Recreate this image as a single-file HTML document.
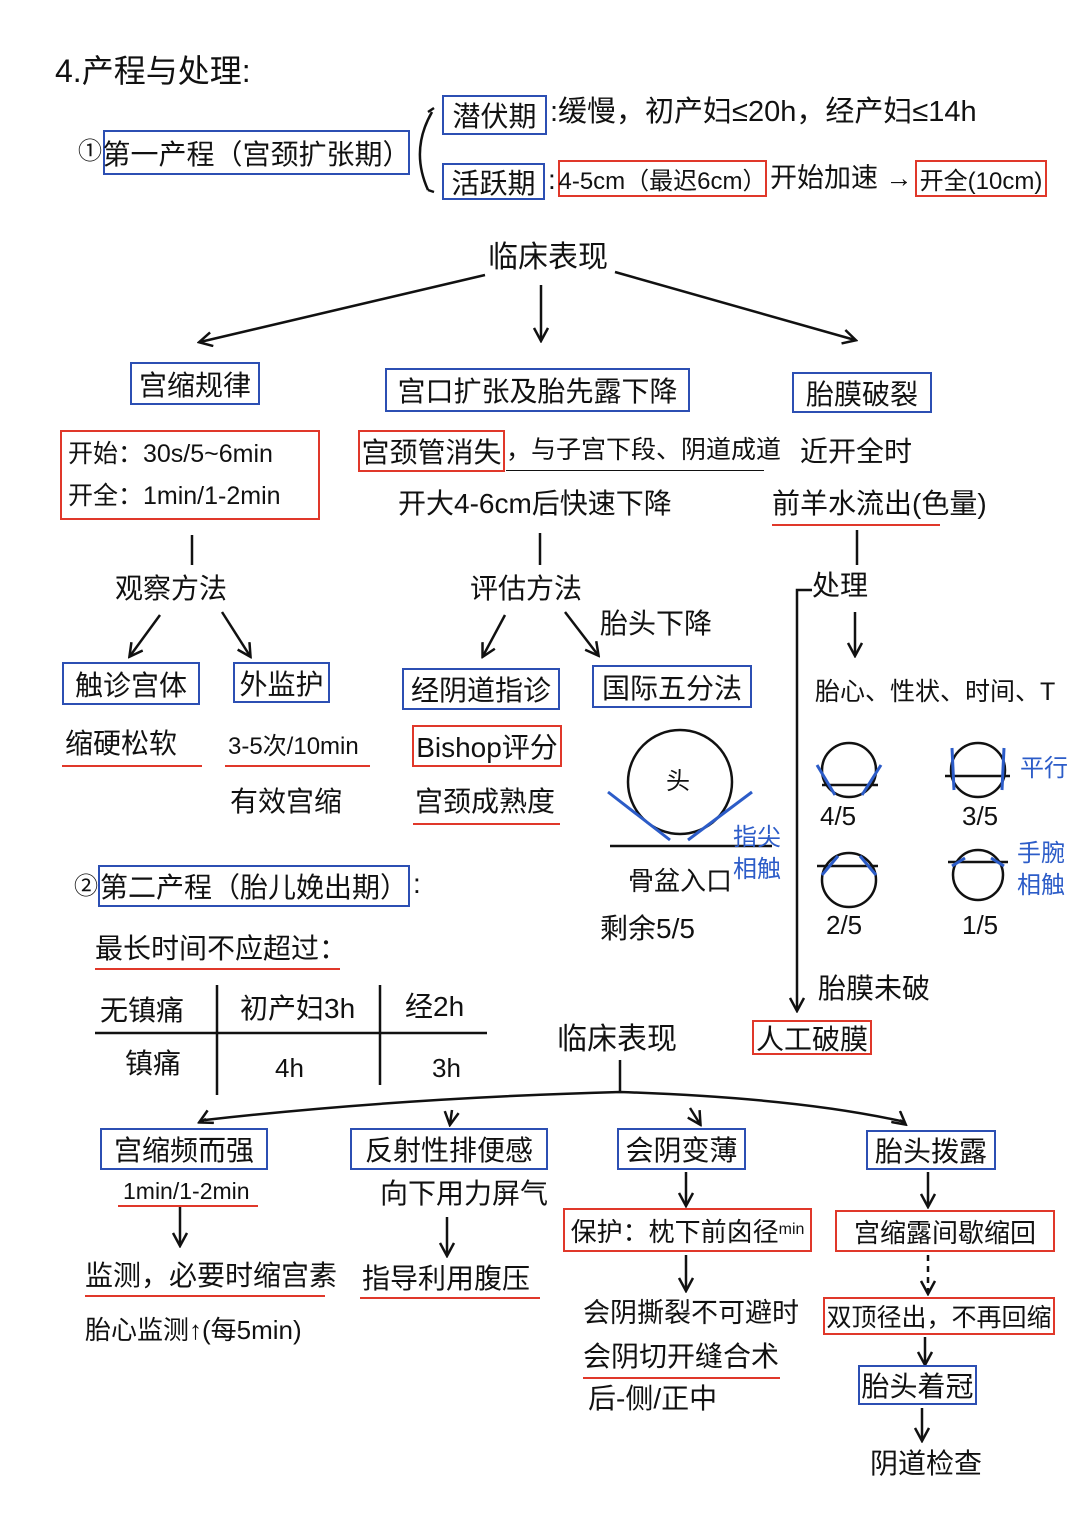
<!DOCTYPE html>
<html><head><meta charset="utf-8"><style>
body{margin:0;width:1080px;height:1529px;background:#fff;position:relative;overflow:hidden;font-family:"Liberation Sans","Noto Sans CJK SC",sans-serif;color:#111}
.t{position:absolute;font-size:28px;line-height:1;white-space:nowrap}
.b{position:absolute;border:2.5px solid #2c4fb3;box-sizing:border-box;font-size:28px;display:flex;align-items:center;justify-content:center;white-space:nowrap}
.r{position:absolute;border:2.5px solid #e0382a;box-sizing:border-box;font-size:28px;display:flex;align-items:center;justify-content:center;white-space:nowrap}
.u{position:absolute;height:0;border-top:2.5px solid #e0382a}
.bl{color:#2c5cc8}
svg{position:absolute;left:0;top:0}
</style></head><body>
<svg width="1080" height="1529" fill="none" stroke="#111" stroke-width="2.5">
<defs><marker id="a" markerUnits="userSpaceOnUse" markerWidth="16" markerHeight="16" refX="13" refY="8" orient="auto"><path d="M1,1 L14,8 L1,15" stroke="#111" stroke-width="2.5" fill="none"/></marker></defs>
<path d="M432,112 Q410,150 428,190"/>
<path d="M428,112 l6,-4 M428,190 l6,2"/>
<line x1="485" y1="275" x2="200" y2="342" marker-end="url(#a)"/>
<line x1="541" y1="285" x2="541" y2="340" marker-end="url(#a)"/>
<line x1="615" y1="272" x2="855" y2="340" marker-end="url(#a)"/>
<line x1="192" y1="535" x2="192" y2="565"/>
<line x1="540" y1="533" x2="540" y2="565"/>
<line x1="857" y1="530" x2="857" y2="565"/>
<line x1="160" y1="615" x2="130" y2="656" marker-end="url(#a)"/>
<line x1="222" y1="612" x2="250" y2="656" marker-end="url(#a)"/>
<line x1="505" y1="615" x2="483" y2="656" marker-end="url(#a)"/>
<line x1="565" y1="612" x2="598" y2="655" marker-end="url(#a)"/>
<path d="M812,590 L797,590 L797,1010" marker-end="url(#a)"/>
<line x1="855" y1="612" x2="855" y2="655" marker-end="url(#a)"/>
<circle cx="680" cy="782" r="52"/>
<line x1="610" y1="846" x2="772" y2="846"/>
<circle cx="849" cy="770" r="27"/><line x1="822" y1="785" x2="878" y2="785"/>
<circle cx="978" cy="770" r="27"/><line x1="945" y1="776" x2="1010" y2="776"/>
<circle cx="849" cy="880" r="27"/><line x1="817" y1="866" x2="878" y2="866"/>
<circle cx="978" cy="875" r="25"/><line x1="948" y1="862" x2="1008" y2="862"/>
<g stroke="#2c5cc8" stroke-width="3">
<line x1="608" y1="792" x2="670" y2="840"/><line x1="752" y1="792" x2="688" y2="840"/>
<line x1="817" y1="765" x2="835" y2="795"/><line x1="881" y1="765" x2="862" y2="795"/>
<line x1="952" y1="748" x2="954" y2="790"/><line x1="1004" y1="748" x2="1002" y2="790"/>
<line x1="838" y1="856" x2="822" y2="875"/><line x1="860" y1="856" x2="876" y2="875"/>
<line x1="965" y1="858" x2="952" y2="866"/><line x1="991" y1="858" x2="1004" y2="866"/>
</g>
<line x1="95" y1="1033" x2="487" y2="1033"/>
<line x1="217" y1="985" x2="217" y2="1095"/>
<line x1="380" y1="985" x2="380" y2="1085"/>
<line x1="620" y1="1060" x2="620" y2="1092"/>
<path d="M205,1120 Q400,1098 620,1092 Q800,1098 905,1122"/>
<line x1="206" y1="1119" x2="200" y2="1122" marker-end="url(#a)"/>
<line x1="452" y1="1110" x2="450" y2="1124" marker-end="url(#a)"/>
<line x1="690" y1="1108" x2="700" y2="1124" marker-end="url(#a)"/>
<line x1="900" y1="1120" x2="905" y2="1124" marker-end="url(#a)"/>
<line x1="180" y1="1207" x2="180" y2="1245" marker-end="url(#a)"/>
<line x1="447" y1="1217" x2="447" y2="1255" marker-end="url(#a)"/>
<line x1="686" y1="1172" x2="686" y2="1205" marker-end="url(#a)"/>
<line x1="686" y1="1255" x2="686" y2="1290" marker-end="url(#a)"/>
<line x1="928" y1="1172" x2="928" y2="1206" marker-end="url(#a)"/>
<line x1="928" y1="1255" x2="928" y2="1293" stroke-dasharray="6,5" marker-end="url(#a)"/>
<line x1="925" y1="1337" x2="925" y2="1364" marker-end="url(#a)"/>
<line x1="922" y1="1408" x2="922" y2="1440" marker-end="url(#a)"/>
</svg>

<div class="t" style="left:55px;top:55px;font-size:32px">4.产程与处理:</div>
<div class="t" style="left:78px;top:140px;font-size:24px">①</div>
<div class="b" style="left:103px;top:130px;width:307px;height:45px">第一产程（宫颈扩张期）</div>
<div class="b" style="left:442px;top:95px;width:105px;height:40px">潜伏期</div>
<div class="t" style="left:550px;top:98px;font-size:29px">:缓慢，初产妇≤20h，经产妇≤14h</div>
<div class="b" style="left:442px;top:163px;width:103px;height:37px">活跃期</div>
<div class="t" style="left:548px;top:166px">:</div>
<div class="r" style="left:558px;top:160px;width:209px;height:37px;font-size:24px">4-5cm（最迟6cm）</div>
<div class="t" style="left:770px;top:165px;font-size:27px">开始加速 →</div>
<div class="r" style="left:915px;top:160px;width:132px;height:37px;font-size:24px">开全(10cm)</div>

<div class="t" style="left:488px;top:243px;font-size:30px">临床表现</div>
<div class="b" style="left:130px;top:362px;width:130px;height:43px">宫缩规律</div>
<div class="b" style="left:385px;top:368px;width:305px;height:44px">宫口扩张及胎先露下降</div>
<div class="b" style="left:792px;top:372px;width:140px;height:41px">胎膜破裂</div>

<div class="r" style="left:60px;top:430px;width:260px;height:90px;flex-direction:column;align-items:flex-start;padding-left:6px;font-size:25px;line-height:42px">开始：30s/5~6min<br>开全：1min/1-2min</div>
<div class="r" style="left:358px;top:430px;width:147px;height:42px">宫颈管消失</div>
<div class="t" style="left:506px;top:438px;font-size:25px">，与子宫下段、阴道成道</div>
<div class="u" style="left:506px;top:470px;width:258px;border-color:#111;border-top-width:1.5px"></div>
<div class="t" style="left:398px;top:490px">开大4-6cm后快速下降</div>
<div class="t" style="left:800px;top:438px">近开全时</div>
<div class="t" style="left:772px;top:490px">前羊水流出(色量)</div>
<div class="u" style="left:772px;top:524px;width:168px"></div>

<div class="t" style="left:115px;top:575px">观察方法</div>
<div class="t" style="left:470px;top:575px">评估方法</div>
<div class="t" style="left:600px;top:610px">胎头下降</div>
<div class="t" style="left:812px;top:572px">处理</div>

<div class="b" style="left:62px;top:662px;width:138px;height:43px">触诊宫体</div>
<div class="b" style="left:233px;top:662px;width:97px;height:41px">外监护</div>
<div class="b" style="left:402px;top:668px;width:158px;height:42px">经阴道指诊</div>
<div class="b" style="left:592px;top:665px;width:160px;height:43px">国际五分法</div>
<div class="t" style="left:815px;top:680px;font-size:25px">胎心、性状、时间、T</div>

<div class="t" style="left:65px;top:730px">缩硬松软</div>
<div class="u" style="left:62px;top:765px;width:140px"></div>
<div class="t" style="left:228px;top:735px;font-size:24px">3-5次/10min</div>
<div class="u" style="left:225px;top:765px;width:145px"></div>
<div class="t" style="left:230px;top:788px">有效宫缩</div>
<div class="r" style="left:412px;top:725px;width:150px;height:42px">Bishop评分</div>
<div class="t" style="left:415px;top:788px">宫颈成熟度</div>
<div class="u" style="left:413px;top:823px;width:147px"></div>

<div class="t" style="left:666px;top:770px;font-size:24px">头</div>
<div class="t bl" style="left:733px;top:822px;font-size:24px;line-height:32px">指尖<br>相触</div>
<div class="t" style="left:628px;top:868px;font-size:26px">骨盆入口</div>
<div class="t" style="left:600px;top:915px">剩余5/5</div>

<div class="t" style="left:820px;top:803px;font-size:26px">4/5</div>
<div class="t" style="left:962px;top:803px;font-size:26px">3/5</div>
<div class="t" style="left:826px;top:912px;font-size:26px">2/5</div>
<div class="t" style="left:962px;top:912px;font-size:26px">1/5</div>
<div class="t bl" style="left:1020px;top:757px;font-size:24px">平行</div>
<div class="t bl" style="left:1017px;top:838px;font-size:24px;line-height:32px">手腕<br>相触</div>
<div class="t" style="left:818px;top:975px">胎膜未破</div>
<div class="r" style="left:752px;top:1020px;width:120px;height:35px">人工破膜</div>

<div class="t" style="left:74px;top:875px;font-size:24px">②</div>
<div class="b" style="left:98px;top:865px;width:312px;height:42px">第二产程（胎儿娩出期）</div>
<div class="t" style="left:413px;top:870px">:</div>
<div class="t" style="left:95px;top:935px">最长时间不应超过：</div>
<div class="u" style="left:95px;top:968px;width:245px"></div>

<div class="t" style="left:100px;top:997px">无镇痛</div>
<div class="t" style="left:240px;top:995px">初产妇3h</div>
<div class="t" style="left:405px;top:993px">经2h</div>
<div class="t" style="left:125px;top:1050px">镇痛</div>
<div class="t" style="left:275px;top:1055px;font-size:26px">4h</div>
<div class="t" style="left:432px;top:1055px;font-size:26px">3h</div>
<div class="t" style="left:557px;top:1025px;font-size:30px">临床表现</div>

<div class="b" style="left:100px;top:1128px;width:168px;height:42px">宫缩频而强</div>
<div class="t" style="left:123px;top:1180px;font-size:23px">1min/1-2min</div>
<div class="u" style="left:118px;top:1205px;width:140px"></div>
<div class="t" style="left:85px;top:1262px">监测，必要时缩宫素</div>
<div class="u" style="left:85px;top:1295px;width:240px"></div>
<div class="t" style="left:85px;top:1317px;font-size:26px">胎心监测↑(每5min)</div>

<div class="b" style="left:350px;top:1128px;width:198px;height:42px">反射性排便感</div>
<div class="t" style="left:380px;top:1180px">向下用力屏气</div>
<div class="t" style="left:362px;top:1265px">指导利用腹压</div>
<div class="u" style="left:360px;top:1297px;width:180px"></div>

<div class="b" style="left:617px;top:1128px;width:129px;height:42px">会阴变薄</div>
<div class="r" style="left:563px;top:1208px;width:249px;height:44px;font-size:26px">保护：枕下前囟径<span style="font-size:16px">min</span></div>
<div class="t" style="left:583px;top:1300px;font-size:27px">会阴撕裂不可避时</div>
<div class="t" style="left:583px;top:1343px">会阴切开缝合术</div>
<div class="u" style="left:583px;top:1377px;width:197px"></div>
<div class="t" style="left:588px;top:1385px">后-侧/正中</div>

<div class="b" style="left:866px;top:1130px;width:130px;height:40px">胎头拨露</div>
<div class="r" style="left:835px;top:1210px;width:220px;height:42px;font-size:26px">宫缩露间歇缩回</div>
<div class="r" style="left:823px;top:1297px;width:232px;height:38px;font-size:25px">双顶径出，不再回缩</div>
<div class="b" style="left:858px;top:1365px;width:119px;height:40px">胎头着冠</div>
<div class="t" style="left:870px;top:1450px">阴道检查</div>
</body></html>
